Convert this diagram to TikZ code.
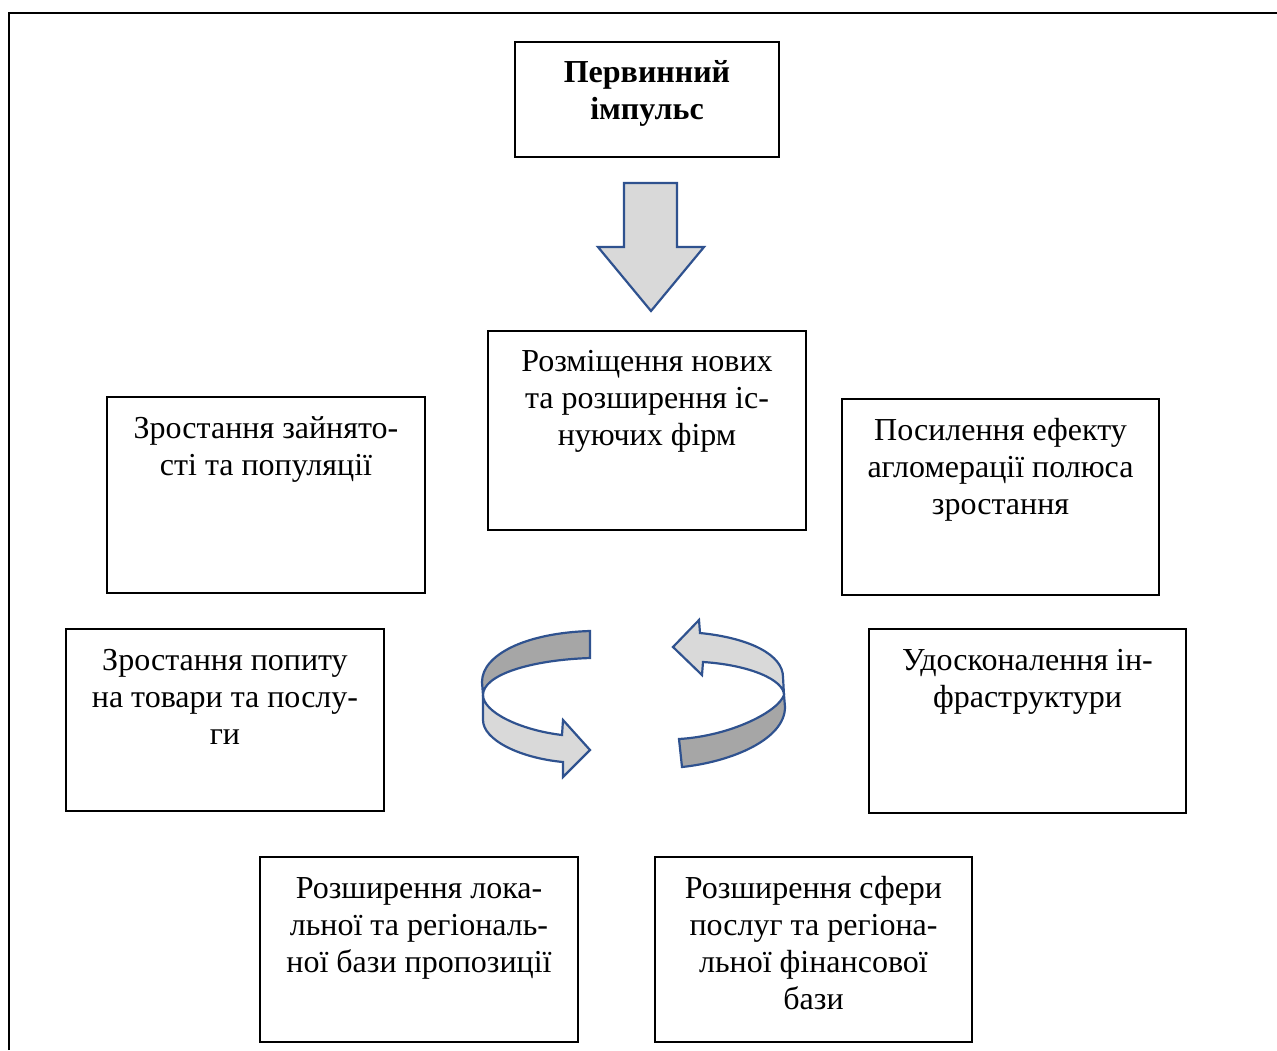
\documentclass[tikz,border=0pt]{standalone}
\usepackage{fontspec}
\setmainfont{Liberation Serif}
\definecolor{ablue}{RGB}{47,82,143}
\definecolor{lgrey}{RGB}{217,217,217}
\definecolor{dgrey}{RGB}{166,166,166}
\begin{document}
\begin{tikzpicture}[x=1pt,y=-1pt,
  box/.style={draw=black, line width=1.1pt, inner sep=0pt},
  txt/.style={anchor=base, inner sep=0pt, font=\fontsize{32}{37}\selectfont},
  shp/.style={draw=ablue, line width=2.2pt, line join=miter}]
\useasboundingbox (0,0) rectangle (1277,1050);
% outer frame
\draw[line width=2pt] (9,1050) -- (9,13) -- (1277,13);
% boxes
\node[box, minimum width=264pt, minimum height=115pt] (b1) at (647,99.5) {};
\node[box, minimum width=318pt, minimum height=199pt] (b2) at (647,430.5) {};
\node[box, minimum width=318pt, minimum height=196pt] (b3) at (266,495) {};
\node[box, minimum width=317pt, minimum height=196pt] (b4) at (1000.5,497) {};
\node[box, minimum width=318pt, minimum height=182pt] (b5) at (225,720) {};
\node[box, minimum width=317pt, minimum height=184pt] (b6) at (1027.5,721) {};
\node[box, minimum width=318pt, minimum height=185pt] (b7) at (419,949.5) {};
\node[box, minimum width=317pt, minimum height=185pt] (b8) at (813.5,949.5) {};
% texts
\node[txt] (t1) at ([yshift=-41pt]b1.north) {\parbox[t]{300pt}{\centering\bfseries Первинний\\імпульс}};
\node[txt] (t2) at ([yshift=-41pt]b2.north) {\parbox[t]{340pt}{\centering Розміщення нових\\та розширення іс-\\нуючих фірм}};
\node[txt] (t3) at ([yshift=-42pt]b3.north) {\parbox[t]{340pt}{\centering Зростання зайнято-\\сті та популяції}};
\node[txt] (t4) at ([yshift=-42pt]b4.north) {\parbox[t]{340pt}{\centering Посилення ефекту\\агломерації полюса\\зростання}};
\node[txt] (t5) at ([yshift=-42.5pt]b5.north) {\parbox[t]{340pt}{\centering Зростання попиту\\на товари та послу-\\ги}};
\node[txt] (t6) at ([yshift=-42pt]b6.north) {\parbox[t]{340pt}{\centering Удосконалення ін-\\фраструктури}};
\node[txt] (t7) at ([yshift=-42pt]b7.north) {\parbox[t]{340pt}{\centering Розширення лока-\\льної та регіональ-\\ної бази пропозиції}};
\node[txt] (t8) at ([yshift=-42pt]b8.north) {\parbox[t]{340pt}{\centering Розширення сфери\\послуг та регіона-\\льної фінансової\\бази}};
% down arrow
\draw[shp, fill=lgrey] (624,183) -- (677,183) -- (677,247) -- (704,247) -- (651,311) -- (598,247) -- (624,247) -- cycle;
% left circular arrow
\draw[shp, fill=dgrey] (590,631) .. controls (525,633) and (482,655) .. (482,682) -- (483,695) .. controls (483,675) and (530,660) .. (590,658) -- cycle;
\draw[shp, fill=lgrey] (483,695) .. controls (483,712) and (520,730) .. (562,735) -- (563,720) -- (590,750) -- (563,777) -- (563,762) .. controls (520,758) and (483,740) .. (483,720) -- cycle;
% right circular arrow
\draw[shp, fill=lgrey] (673,647) -- (699,620) -- (700,633) .. controls (750,638) and (783,655) .. (783,677) -- (784,695) .. controls (784,680) and (750,665) .. (703,662) -- (702,675) -- cycle;
\draw[shp, fill=dgrey] (784,695) -- (785,707) .. controls (785,740) and (730,762) .. (682,767) -- (679,739) .. controls (730,736) and (778,712) .. (784,695) -- cycle;
\end{tikzpicture}
\end{document}
